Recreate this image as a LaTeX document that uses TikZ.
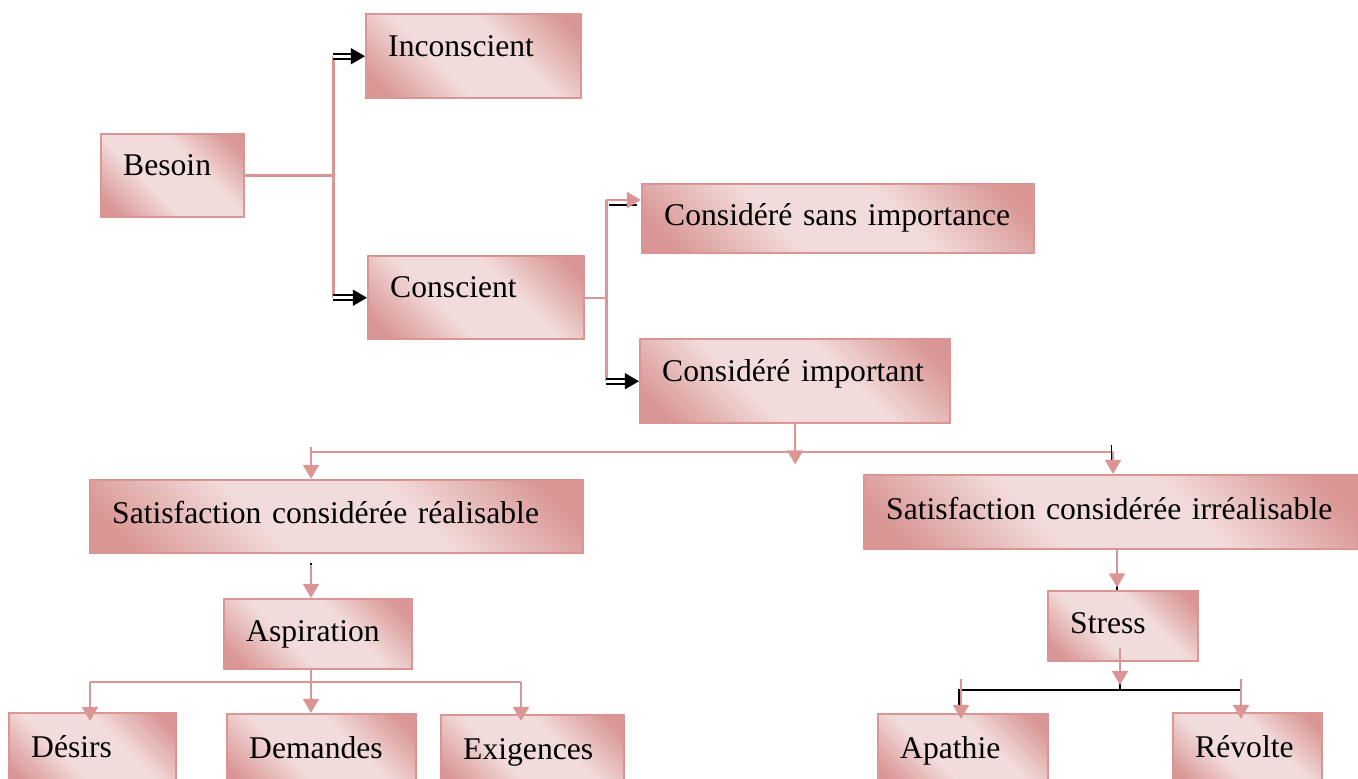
\documentclass[tikz,border=0pt]{standalone}
\usepackage{fontspec}
\setmainfont{Liberation Serif}
\usetikzlibrary{arrows.meta,calc}

\definecolor{rosefonce}{HTML}{D99694}
\definecolor{roseclair}{HTML}{F2DCDB}
\pgfdeclareverticalshading{rosedegrade}{100bp}{color(0bp)=(rosefonce); color(20bp)=(rosefonce);
  color(40bp)=(roseclair); color(60bp)=(roseclair); color(80bp)=(rosefonce); color(100bp)=(rosefonce)}

\tikzset{
  boite/.style={draw=rosefonce, line width=1.4pt, shading=rosedegrade, shading angle=-45,
    anchor=north west, align=left, inner xsep=0.44cm, inner ysep=0pt,
    text height=12pt, text depth=12pt},
  plat/.style={text height=13pt, text depth=5pt},
  lien/.style={draw=rosefonce, line width=1.4pt},
  fleche/.style={lien, -{Triangle[width=9pt,length=8pt]}},
  noire/.style={draw=black, double=white, double distance=1.8pt, line width=1.1pt,
    -{Triangle[width=9pt,length=8pt,fill=black]}},
  trait/.style={draw=black, line width=1pt}
}

\begin{document}
\begin{tikzpicture}[x=0.02cm, y=-0.02cm, every node/.style={font=\fontsize{18}{22}\selectfont}]
  \useasboundingbox (0,0) rectangle (1358,778);
  \clip (0,0) rectangle (1358,778);

  \node[boite, minimum height=1.66cm, text width=1.98cm] (besoin) at (100,133) {Besoin};
  \node[boite, minimum height=1.68cm, text width=3.42cm] (inconscient) at (365,13) {Inconscient};
  \node[boite, minimum height=1.66cm, text width=3.44cm] (conscient) at (367,255) {Conscient};
  \node[boite, plat, minimum height=1.38cm, text width=6.96cm] (sansimp) at (641,183) {Considéré sans importance};
  \node[boite, minimum height=1.68cm, text width=5.32cm] (important) at (639,338) {Considéré important};
  \node[boite, plat, minimum height=1.46cm, text width=8.98cm] (realisable) at (89,479) {Satisfaction considérée réalisable};
  \node[boite, plat, minimum height=1.48cm, text width=9.0cm] (irrealisable) at (863,474) {Satisfaction considérée irréalisable};
  \node[boite, plat, minimum height=1.4cm, text width=2.88cm] (aspiration) at (223,598) {Aspiration};
  \node[boite, plat, minimum height=1.4cm, text width=2.12cm] (stress) at (1047,590) {Stress};
  \node[boite, plat, minimum height=1.48cm, text width=2.46cm] (desirs) at (8,712) {Désirs};
  \node[boite, plat, minimum height=1.48cm, text width=2.9cm] (demandes) at (226,713) {Demandes};
  \node[boite, plat, minimum height=1.48cm, text width=2.78cm] (exigences) at (440,714) {Exigences};
  \node[boite, plat, minimum height=1.48cm, text width=2.52cm] (apathie) at (877,713) {Apathie};
  \node[boite, plat, minimum height=1.48cm, text width=2.1cm] (revolte) at (1172,712) {Révolte};

  \draw[lien] (besoin.east) -- ++(88,0) coordinate (fourche1);
  \draw[lien] (fourche1 |- inconscient.west) -- (fourche1 |- conscient.west);
  \draw[noire] (fourche1 |- inconscient.west) -- (inconscient.west);
  \draw[noire] (fourche1 |- conscient.west) -- (conscient.west);

  \draw[lien] (conscient.east) -- ++(21,0) coordinate (fourche2);
  \draw[lien] (fourche2 |- 0,200) -- (fourche2 |- important.west);
  \draw[trait] ($(fourche2 |- 0,205)+(3,0)$) -- ($(sansimp.west |- 0,205)+(-4,0)$);
  \draw[fleche] (fourche2 |- 0,200) -- (sansimp.west |- 0,200);
  \draw[noire] (fourche2 |- important.west) -- (important.west);

  \coordinate (g) at (311,452);
  \coordinate (d) at (1113,452);
  \draw[lien] (g) -- (d);
  \draw[fleche] (important.south) -- ++(0,40);
  \draw[fleche] ($(g)+(0,-5)$) -- (g |- realisable.north);
  \draw[trait] ($(d)+(-1.5,-7)$) -- ++(0,22);
  \draw[fleche] (d) -- (d |- irrealisable.north);

  \draw[trait] ($(g |- realisable.south)+(0,9)$) -- ++(0,6);
  \draw[fleche, shorten <=0.22cm] (g |- realisable.south) -- (g |- aspiration.north);
  \draw[fleche] (g |- aspiration.south) -- (g |- demandes.north);
  \draw[lien] (90,682) -- (521,682);
  \foreach \x in {90,521}
    \draw[fleche] (\x,682) -- ++(0,39);

  \coordinate (s) at (1120,690);
  \draw[trait] (1117,575) -- (stress.north -| 1117,0);
  \draw[fleche] (irrealisable.south -| 1117,0) -- ++(0,37);
  \draw[trait] (959,705) -- (959,690) -- (1241,690);
  \draw[trait] (s) -- ++(0,-8);
  \draw[fleche] ($(s)+(0,-42)$) -- ++(0,37);
  \foreach \x in {961,1241}
    \draw[fleche] (\x,679) -- ++(0,40);
\end{tikzpicture}
\end{document}
